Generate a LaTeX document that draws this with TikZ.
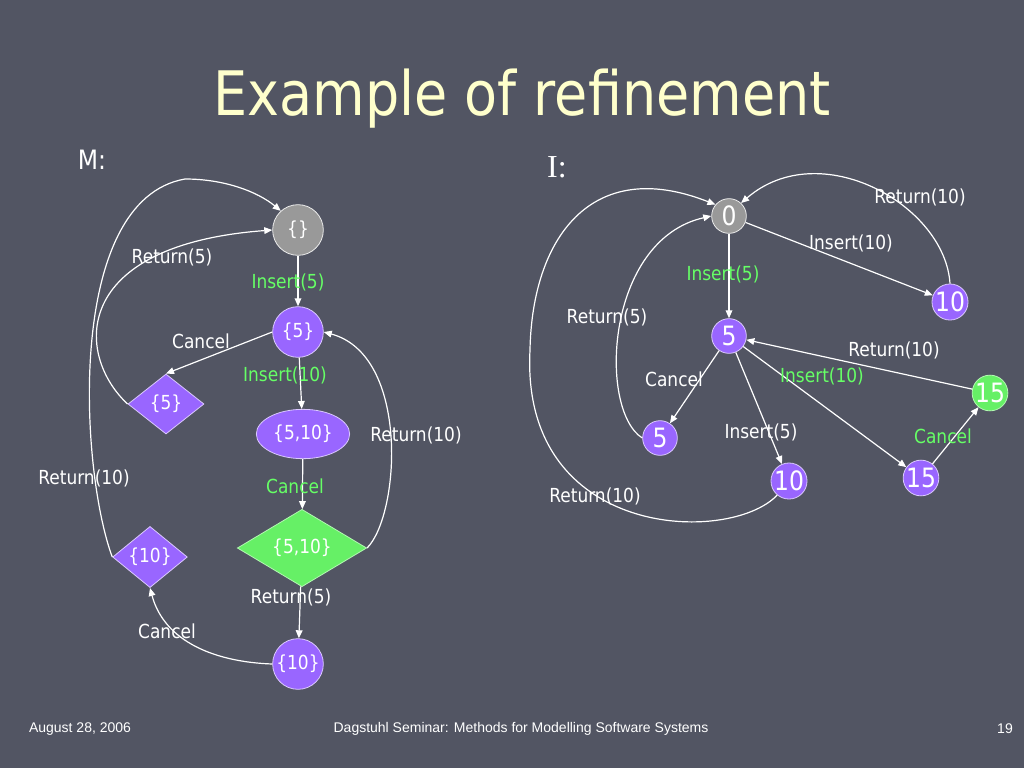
\documentclass[tikz,border=0pt]{standalone}
\usepackage{fontspec}
\setmainfont{DejaVu Sans}[FakeStretch=0.88]
\newfontfamily\slideserif{Liberation Serif}
\newfontfamily\slidefoot{Liberation Sans}
\usetikzlibrary{shapes.geometric, arrows.meta}
\definecolor{slidebg}{RGB}{82,85,99}
\definecolor{statepurple}{RGB}{153,102,255}
\definecolor{stategray}{RGB}{153,153,153}
\definecolor{stategreen}{RGB}{102,240,102}
\definecolor{labelgreen}{RGB}{102,255,102}
\definecolor{titleyellow}{RGB}{255,255,204}

\begin{document}
\begin{tikzpicture}[x=0.75pt, y=-0.75pt,
  state/.style={circle, fill=statepurple, draw=white!65!statepurple, line width=0.6pt, text=white, inner sep=0pt, minimum size=38pt, font=\fontsize{14.5}{16}\selectfont},
  initstate/.style={state, fill=stategray, draw=white!80!stategray},
  pendstate/.style={state, diamond, minimum width=57pt, minimum height=45pt},
  smallstate/.style={state, minimum size=26pt, font=\fontsize{20}{22}\selectfont},
  trans/.style={draw=white, line width=0.9pt, -{Triangle[length=6pt,width=5pt]}},
  lbl/.style={text=white, inner sep=1pt, font=\fontsize{14.5}{16}\selectfont},
  glbl/.style={lbl, text=labelgreen},
  title/.style={anchor=base, text=titleyellow, font=\fontsize{46}{50}\selectfont},
  foot/.style={text=white, font=\slidefoot\fontsize{10.5}{12}\selectfont}
]

% === SFONDO ===
\fill[slidebg] (0,0) rectangle (1024,768);

% === TITOLO ===
\node[title] (title) at (522,115) {Example of refinement};
\node[text=white, font=\fontsize{20}{22}\selectfont] (specM) at (92,160) {M:};
\node[text=white, font=\slideserif\fontsize{24}{26}\selectfont] (implI) at (557,167) {I:};

% === NODI M ===
\node[initstate] (mEmpty) at (298,230) {\{\}};
\node[state] (mFive) at (298,332) {\{5\}};
\node[pendstate] (mFiveD) at (166,404) {\{5\}};
\node[state, ellipse, minimum width=70pt, minimum height=37pt] (mBoth) at (303,434) {\{5,10\}};
\node[pendstate, fill=stategreen, draw=white!50!stategreen, minimum width=97pt, minimum height=43pt] (mBothD) at (302,548) {\{5,10\}};
\node[pendstate, minimum width=56pt, minimum height=44pt] (mTenD) at (150,557) {\{10\}};
\node[state] (mTen) at (298,664) {\{10\}};

% === COLLEGAMENTI M ===
\draw[trans] (mEmpty) -- (mFive);
\draw[trans] (mFive.west) -- (mFiveD.north);
\draw[trans] (mFive) -- (mBoth);
\draw[trans] (mBoth) -- (mBothD);
\draw[trans] (mBothD) -- (mTen);
\draw[trans] (mTen.west) to[out=178, in=-75] (mTenD.south);
\draw[trans] (mTenD.west) .. controls (80,470) and (65,200) .. (185,179)
  .. controls (225,179) and (258,192) .. (mEmpty.132);
\draw[trans] (mFiveD.west) .. controls (75,355) and (70,245) .. (mEmpty.west);
\draw[trans] (mBothD.east) .. controls (400,515) and (410,355) .. (mFive.east);

% === ETICHETTE M ===
\node[lbl] (mRetFiveA) at (172,257) {Return(5)};
\node[glbl] (mInsFive) at (288,282) {Insert(5)};
\node[lbl] (mCancelA) at (201,341) {Cancel};
\node[glbl] (mInsTen) at (285,375) {Insert(10)};
\node[lbl] (mRetTenA) at (416,435) {Return(10)};
\node[lbl] (mRetTenB) at (84,478) {Return(10)};
\node[glbl] (mCancelB) at (295,486) {Cancel};
\node[lbl] (mRetFiveB) at (291,597) {Return(5)};
\node[lbl] (mCancelC) at (167,631) {Cancel};

% === NODI I ===
\node[smallstate, fill=stategray, draw=white!80!stategray] (iZero) at (729,216) {0};
\node[smallstate] (iTenA) at (950,302) {10};
\node[smallstate] (iFive) at (729,336) {5};
\node[smallstate, fill=stategreen, draw=white!50!stategreen] (iFifteenG) at (990,393) {15};
\node[smallstate] (iFiveB) at (660,438) {5};
\node[smallstate] (iTenB) at (789,481) {10};
\node[smallstate] (iFifteen) at (921,478) {15};

% === COLLEGAMENTI I ===
\draw[trans] (iZero) -- (iFive);
\draw[trans] (iZero) -- (iTenA);
\draw[trans] (iTenA.north) .. controls (945,205) and (820,135) .. (iZero.47);
\draw[trans] (iFive) -- (iFiveB);
\draw[trans] (iFiveB.west) .. controls (598,410) and (605,240) .. (iZero.west);
\draw[trans] (iFive) -- (iTenB);
\draw[trans] (iFive) -- (iFifteen);
\draw[trans] (iFifteenG) -- (iFive);
\draw[trans] (iFifteen) -- (iFifteenG);
\draw[trans] (iTenB.230) .. controls (730,545) and (520,540) .. (530,350)
  .. controls (532,240) and (590,155) .. (iZero.140);

% === ETICHETTE I ===
\node[lbl] (iRetTenA) at (920,197) {Return(10)};
\node[lbl] (iInsTenA) at (851,243) {Insert(10)};
\node[glbl] (iInsFive) at (723,274) {Insert(5)};
\node[lbl] (iRetFive) at (607,317) {Return(5)};
\node[lbl] (iRetTenB) at (894,350) {Return(10)};
\node[glbl] (iInsTenB) at (822,376) {Insert(10)};
\node[lbl] (iCancelA) at (674,379) {Cancel};
\node[lbl] (iInsFiveB) at (761,432) {Insert(5)};
\node[glbl] (iCancelB) at (943,436) {Cancel};
\node[lbl] (iRetTenC) at (595,496) {Return(10)};

% === PIE DI PAGINA ===
\node[foot] (date) at (80,729) {August 28, 2006};
\node[foot] (seminar) at (521,729) {Dagstuhl Seminar: Methods for Modelling Software Systems};
\node[foot] (page) at (1005,729) {19};

\end{tikzpicture}
\end{document}
